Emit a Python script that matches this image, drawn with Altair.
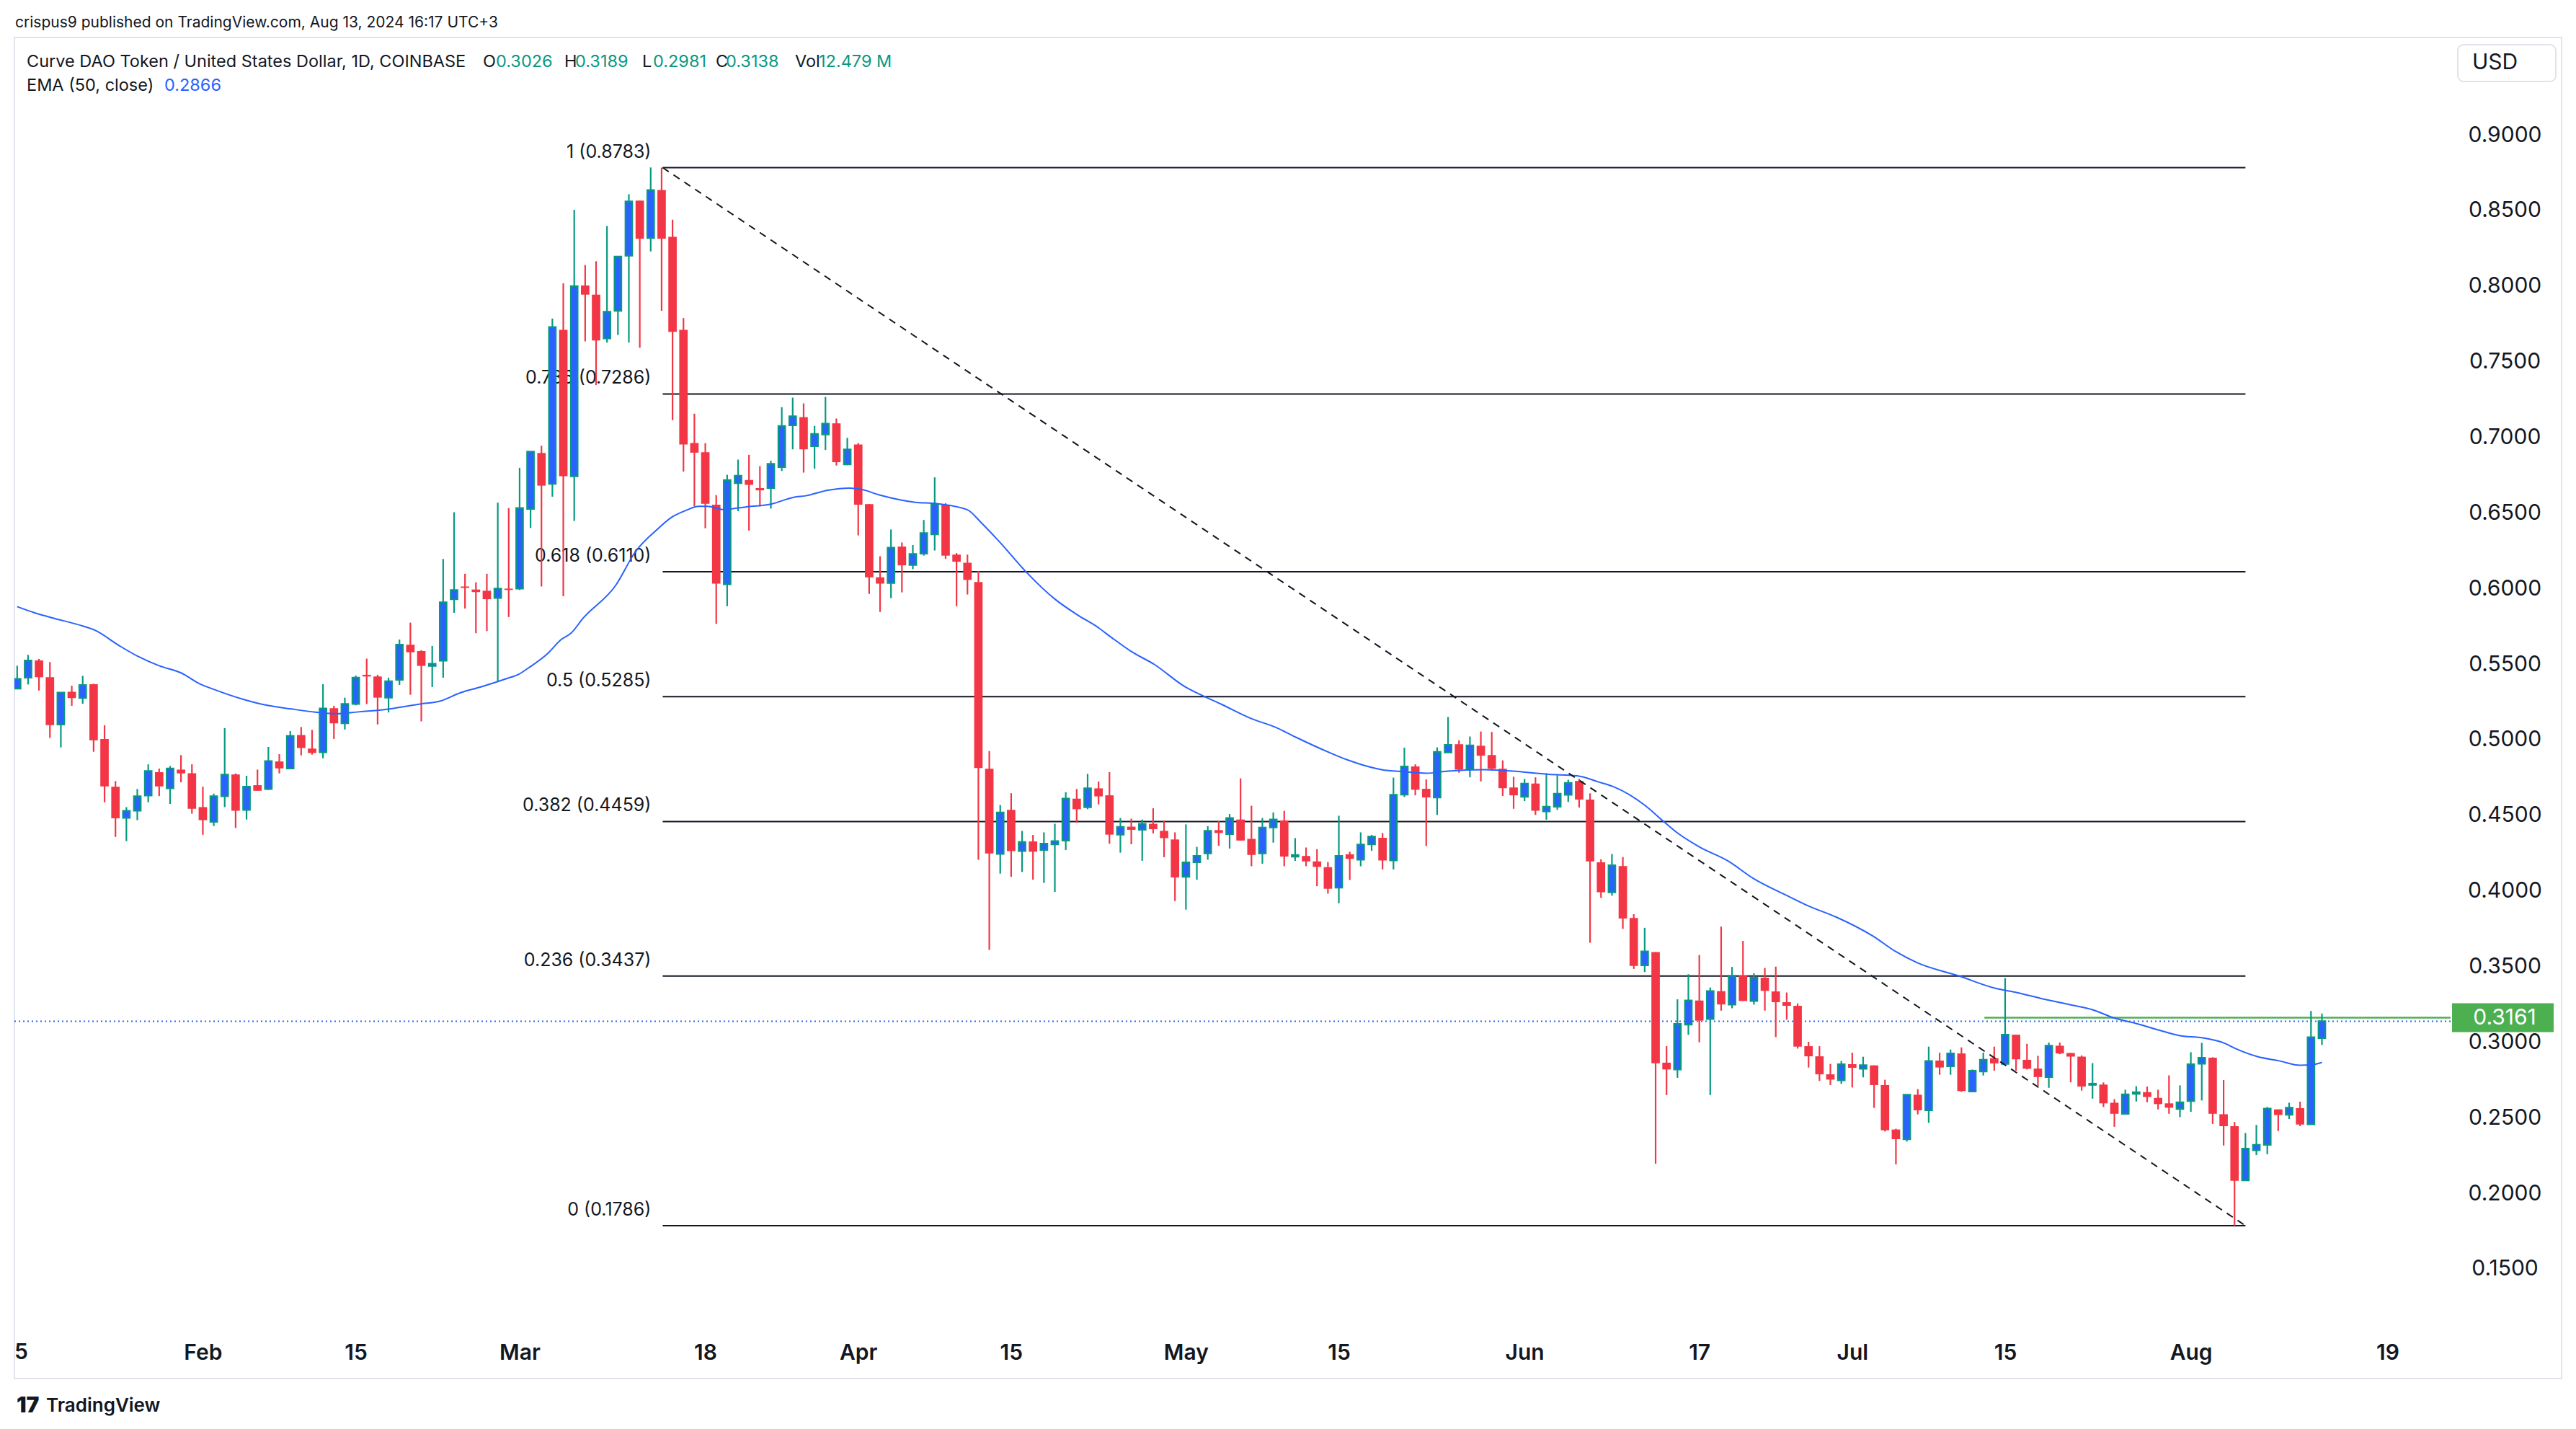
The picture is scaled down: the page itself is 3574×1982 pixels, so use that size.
import altair as alt
import pandas as pd

# ---------------- data ----------------
start_date = "2024-01-15"

opens = [0.5338,0.5410,0.5524,0.5413,0.5100,0.5317,0.5275,0.5367,0.5004,0.4689,
         0.4483,0.4530,0.4631,0.4785,0.4678,0.4802,0.4778,0.4554,0.4456,0.4626,
         0.4770,0.4535,0.4699,0.4674,0.4856,0.4809,0.5031,0.4941,0.4917,0.5208,
         0.5109,0.5236,0.5429,0.5418,0.5278,0.5396,0.5628,0.5586,0.5488,0.5522,
         0.5929,0.6013,0.5993,0.5985,0.5937,0.5999,0.5999,0.6526,0.6896,0.6691,
         0.7710,0.6742,0.8004,0.7943,0.7654,0.7836,0.8201,0.8565,0.8318,0.8635,
         0.8325,0.7710,0.6962,0.6901,0.6554,0.6028,0.6696,0.6717,0.6664,0.6664,
         0.6803,0.7079,0.7133,0.6941,0.7018,0.7092,0.6820,0.6952,0.6558,0.6074,
         0.6036,0.6277,0.6155,0.6230,0.6358,0.6554,0.6224,0.6170,0.6043,0.4808,
         0.4244,0.4536,0.4263,0.4327,0.4270,0.4308,0.4333,0.4610,0.4553,0.4678,
         0.4632,0.4372,0.4425,0.4404,0.4444,0.4397,0.4340,0.4093,0.4189,0.4248,
         0.4402,0.4376,0.4472,0.4344,0.4248,0.4419,0.4466,0.4227,0.4231,0.4195,
         0.4157,0.4021,0.4242,0.4206,0.4308,0.4351,0.4201,0.4636,0.4823,0.4675,
         0.4618,0.4915,0.4970,0.4806,0.4960,0.4898,0.4808,0.4684,0.4622,0.4710,
         0.4526,0.4557,0.4635,0.4727,0.4604,0.4189,0.3991,0.4164,0.3821,0.3508,
         0.3596,0.2864,0.2819,0.3116,0.3275,0.3153,0.3337,0.3248,0.3442,0.3272,
         0.3426,0.3335,0.3264,0.3240,0.2973,0.2906,0.2787,0.2747,0.2854,0.2824,
         0.2846,0.2716,0.2422,0.2358,0.2652,0.2549,0.2878,0.2840,0.2925,0.2673,
         0.2806,0.2894,0.2856,0.3049,0.2883,0.2825,0.2769,0.2976,0.2928,0.2904,
         0.2717,0.2719,0.2599,0.2526,0.2658,0.2669,0.2631,0.2595,0.2558,0.2610,
         0.2857,0.2897,0.2523,0.2444,0.2086,0.2285,0.2321,0.2555,0.2520,0.2563,
         0.2456,0.3026]
highs = [0.5489,0.5561,0.5534,0.5513,0.5311,0.5357,0.5422,0.5370,0.5095,0.4726,
         0.4554,0.4674,0.4837,0.4809,0.4826,0.4898,0.4837,0.4689,0.4643,0.5076,
         0.4777,0.4761,0.4802,0.4952,0.4904,0.5057,0.5084,0.5065,0.5367,0.5224,
         0.5278,0.5424,0.5536,0.5429,0.5410,0.5662,0.5774,0.5592,0.5620,0.6195,
         0.6504,0.6097,0.6041,0.6097,0.6568,0.6532,0.6798,0.6905,0.6944,0.7785,
         0.8018,0.8504,0.8139,0.8164,0.8397,0.8195,0.8607,0.8565,0.8784,0.8783,
         0.8438,0.7788,0.7156,0.6961,0.6617,0.6752,0.6852,0.6884,0.6809,0.6845,
         0.7199,0.7262,0.7224,0.7075,0.7267,0.7124,0.6996,0.6962,0.6558,0.6213,
         0.6390,0.6304,0.6287,0.6453,0.6735,0.6564,0.6234,0.6224,0.6115,0.4925,
         0.4568,0.4646,0.4397,0.4370,0.4387,0.4444,0.4653,0.4674,0.4774,0.4723,
         0.4785,0.4482,0.4478,0.4472,0.4546,0.4466,0.4387,0.4440,0.4291,0.4429,
         0.4461,0.4508,0.4744,0.4563,0.4482,0.4519,0.4529,0.4349,0.4287,0.4276,
         0.4191,0.4497,0.4259,0.4387,0.4370,0.4383,0.4749,0.4947,0.4837,0.4737,
         0.4949,0.5150,0.4996,0.5021,0.5054,0.5051,0.4863,0.4755,0.4741,0.4751,
         0.4778,0.4765,0.4735,0.4741,0.4645,0.4209,0.4244,0.4224,0.3846,0.3756,
         0.3596,0.2973,0.3283,0.3449,0.3576,0.3361,0.3764,0.3497,0.3669,0.3455,
         0.3490,0.3499,0.3328,0.3256,0.3002,0.2973,0.2856,0.2875,0.2930,0.2903,
         0.2846,0.2751,0.2427,0.2652,0.2689,0.2970,0.2930,0.2951,0.2965,0.2819,
         0.2930,0.2970,0.3423,0.3049,0.2989,0.2909,0.2997,0.2997,0.2928,0.2912,
         0.2861,0.2733,0.2623,0.2685,0.2709,0.2706,0.2685,0.2780,0.2714,0.2933,
         0.2995,0.2900,0.2749,0.2472,0.2399,0.2452,0.2571,0.2555,0.2599,0.2606,
         0.3206,0.3189]
lows = [0.5335,0.5365,0.5325,0.5012,0.4949,0.5224,0.5238,0.4920,0.4586,0.4357,
        0.4329,0.4468,0.4586,0.4627,0.4575,0.4718,0.4511,0.4371,0.4429,0.4554,
        0.4416,0.4472,0.4662,0.4666,0.4777,0.4806,0.4896,0.4901,0.4877,0.5005,
        0.5067,0.5227,0.5236,0.5101,0.5180,0.5362,0.5297,0.5121,0.5348,0.5410,
        0.5839,0.5867,0.5704,0.5718,0.5382,0.5811,0.5990,0.6400,0.6013,0.6607,
        0.5948,0.6447,0.7634,0.7345,0.7626,0.7676,0.7626,0.7592,0.8229,0.7836,
        0.7113,0.6773,0.6543,0.6398,0.5766,0.5883,0.6511,0.6383,0.6543,0.6528,
        0.6777,0.6920,0.6766,0.6792,0.6916,0.6813,0.6815,0.6351,0.5964,0.5845,
        0.5936,0.5974,0.6128,0.6217,0.6251,0.6196,0.5883,0.5960,0.4206,0.3610,
        0.4114,0.4093,0.4125,0.4074,0.4053,0.3993,0.4270,0.4451,0.4540,0.4572,
        0.4312,0.4253,0.4308,0.4199,0.4380,0.4223,0.3933,0.3876,0.4074,0.4206,
        0.4298,0.4280,0.4333,0.4163,0.4180,0.4319,0.4163,0.4199,0.4163,0.4031,
        0.3982,0.3918,0.4072,0.4163,0.4265,0.4142,0.4142,0.4621,0.4632,0.4297,
        0.4502,0.4915,0.4782,0.4751,0.4724,0.4802,0.4628,0.4543,0.4594,0.4502,
        0.4471,0.4536,0.4588,0.4551,0.3657,0.3954,0.3968,0.3749,0.3484,0.3463,
        0.2196,0.2650,0.2764,0.3048,0.2999,0.2650,0.3208,0.3224,0.3272,0.3248,
        0.3208,0.3033,0.3148,0.2957,0.2832,0.2743,0.2716,0.2724,0.2700,0.2767,
        0.2565,0.2409,0.2191,0.2342,0.2522,0.2466,0.2784,0.2784,0.2671,0.2673,
        0.2779,0.2811,0.2856,0.2811,0.2819,0.2711,0.2698,0.2920,0.2734,0.2679,
        0.2626,0.2571,0.2440,0.2526,0.2607,0.2602,0.2555,0.2526,0.2504,0.2539,
        0.2614,0.2459,0.2316,0.1786,0.2086,0.2253,0.2258,0.2412,0.2491,0.2444,
        0.2456,0.2981]
closes = [0.5402,0.5524,0.5413,0.5096,0.5311,0.5275,0.5362,0.4996,0.4691,0.4480,
          0.4530,0.4626,0.4793,0.4691,0.4810,0.4777,0.4543,0.4468,0.4626,0.4769,
          0.4530,0.4689,0.4662,0.4858,0.4810,0.5025,0.4945,0.4912,0.5206,0.5108,
          0.5236,0.5410,0.5418,0.5278,0.5387,0.5628,0.5578,0.5488,0.5502,0.5909,
          0.5990,0.6004,0.5976,0.5929,0.5999,0.5990,0.6532,0.6905,0.6680,0.7729,
          0.6742,0.7999,0.7943,0.7640,0.7830,0.8195,0.8560,0.8313,0.8635,0.8313,
          0.7697,0.6952,0.6898,0.6560,0.6032,0.6717,0.6745,0.6685,0.6649,0.6824,
          0.7075,0.7139,0.6920,0.7022,0.7090,0.6835,0.6920,0.6554,0.6074,0.6032,
          0.6270,0.6153,0.6228,0.6366,0.6558,0.6217,0.6177,0.6057,0.4812,0.4248,
          0.4519,0.4263,0.4323,0.4259,0.4312,0.4329,0.4610,0.4540,0.4678,0.4625,
          0.4372,0.4423,0.4404,0.4444,0.4408,0.4349,0.4089,0.4189,0.4231,0.4397,
          0.4383,0.4482,0.4333,0.4238,0.4419,0.4472,0.4227,0.4238,0.4195,0.4159,
          0.4014,0.4231,0.4212,0.4306,0.4359,0.4201,0.4636,0.4823,0.4669,0.4618,
          0.4919,0.4966,0.4802,0.4962,0.4894,0.4808,0.4679,0.4632,0.4710,0.4530,
          0.4557,0.4643,0.4714,0.4604,0.4195,0.3991,0.4169,0.3817,0.3504,0.3600,
          0.2860,0.2819,0.3120,0.3275,0.3142,0.3337,0.3249,0.3439,0.3272,0.3426,
          0.3339,0.3264,0.3240,0.2970,0.2906,0.2787,0.2752,0.2854,0.2830,0.2848,
          0.2716,0.2417,0.2358,0.2652,0.2549,0.2875,0.2832,0.2925,0.2676,0.2811,
          0.2883,0.2859,0.3049,0.2886,0.2824,0.2769,0.2976,0.2925,0.2904,0.2706,
          0.2725,0.2595,0.2526,0.2655,0.2669,0.2637,0.2590,0.2566,0.2602,0.2854,
          0.2897,0.2526,0.2444,0.2083,0.2296,0.2321,0.2560,0.2518,0.2566,0.2455,
          0.3032,0.3138]

ema_day = [0, 1.6, 3.15, 6.0, 7.1, 9.3, 11.0, 13.0, 15.0, 16.7, 18.0, 20.7, 22.9, 25.1, 27.3,
           29.2, 31.4, 33.6, 36.9, 38.7, 40.6, 42.4, 44.8, 45.9, 46.8, 48.6, 49.8, 50.7, 51.8,
           54.8, 56.6, 58.6, 59.9, 61.2, 62.4, 63.2, 64.6, 66.7, 69.0, 71.1, 72.2, 74.2, 76.2,
           77.3, 79.0, 82.1, 84.3, 87.0, 88.2, 90.0, 92.3, 95.0, 97.1, 98.9, 100.2, 102.0,
           104.1, 106.9, 108.5, 110.3, 112.9, 115.3, 117.1, 120.0, 121.8, 124.9, 127.0, 129.0,
           131.0, 134.3, 136.9, 140.2, 142.8, 144.8, 146.1, 149.0, 150.7, 152.0, 154.0, 156.6,
           159.0, 162.0, 164.0, 166.5, 169.9, 172.0, 174.0, 177.7, 181.1, 183.1, 185.2, 188.0,
           190.0, 192.0, 194.2, 196.1, 197.9, 200.1, 202.1, 203.1, 205.1, 207.1, 209.0, 210.0, 211.0]
ema_val = [0.588, 0.5839, 0.5807, 0.5752, 0.5725, 0.5624, 0.5553, 0.5489, 0.5442, 0.5370, 0.5333,
           0.5267, 0.5227, 0.5203, 0.5182, 0.5171, 0.5185, 0.5199, 0.5236, 0.5255, 0.5311, 0.5348,
           0.5404, 0.5432, 0.5474, 0.5572, 0.5662, 0.5704, 0.5802, 0.6021, 0.6243, 0.6391, 0.6470,
           0.6515, 0.6543, 0.6543, 0.6522, 0.6539, 0.6558, 0.6603, 0.6613, 0.6649, 0.6664, 0.6655,
           0.6617, 0.6571, 0.6560, 0.6520, 0.6440, 0.6303, 0.6115, 0.5930, 0.5824, 0.5745, 0.5675,
           0.5583, 0.5498, 0.5351, 0.5292, 0.5232, 0.5142, 0.5079, 0.5015, 0.4919, 0.4866, 0.4802,
           0.4788, 0.4778, 0.4792, 0.4802, 0.4792, 0.4771, 0.4761, 0.4720, 0.4690, 0.4567, 0.4461,
           0.4383, 0.4291, 0.4199, 0.4080, 0.3970, 0.3900, 0.3828, 0.3701, 0.3598, 0.3523, 0.3439,
           0.3356, 0.3327, 0.3290, 0.3246, 0.3214, 0.3159, 0.3119, 0.3079, 0.3044, 0.3028, 0.2992,
           0.2957, 0.2904, 0.2876, 0.2847, 0.2849, 0.2866]

fib_ratio = ["1", "0.786", "0.618", "0.5", "0.382", "0.236", "0"]
fib_price = [0.8783, 0.7286, 0.6110, 0.5285, 0.4459, 0.3437, 0.1786]
fib_start_day = 59.1     # Mar 14 high
fib_end_day = 204.0      # Aug 5 low

tick_days = [17, 31, 46, 63, 77, 91, 107, 121, 138, 154, 168, 182, 199, 217]
tick_labels = ["Feb", "15", "Mar", "18", "Apr", "15", "May", "15", "Jun", "17", "Jul", "15", "Aug", "19"]
price_ticks = [0.15, 0.20, 0.25, 0.30, 0.35, 0.40, 0.45, 0.50, 0.55, 0.60, 0.65, 0.70, 0.75, 0.80, 0.85, 0.90]

last_close = 0.3138
ray_price = 0.3161
ray_start_day = 180.1

assert len(opens) == len(highs) == len(lows) == len(closes)
assert len(ema_day) == len(ema_val)

# ---------------- frames ----------------
n = len(opens)
dates = pd.date_range(start_date, periods=n, freq="D")
candles = pd.DataFrame({"t": list(range(n)), "date": dates.strftime("%Y-%m-%d"),
                        "o": opens, "h": highs, "l": lows, "c": closes})
candles["up"] = candles["c"] >= candles["o"]
up = candles[candles["up"]]
dn = candles[~candles["up"]]

ema = pd.DataFrame({"t": ema_day, "ema": ema_val})
fib = pd.DataFrame({"ratio": fib_ratio, "price": fib_price})
fib["label"] = [f"{r} ({p:.4f})" for r, p in zip(fib_ratio, fib_price)]
fib["x1"] = fib_start_day
fib["x2"] = fib_end_day
diag = pd.DataFrame({"x1": [fib_start_day], "x2": [fib_end_day],
                     "y1": [fib_price[0]], "y2": [fib_price[-1]]})
lastp = pd.DataFrame({"v": [last_close]})
ray = pd.DataFrame({"t": [ray_start_day], "v": [ray_price], "lab": [f"{ray_price:.4f}"]})
one = pd.DataFrame({"k": [0]})

# ---------------- geometry ----------------
W, H = 3380, 1768
X0, X1 = 0.079, 222.45
Y0, Y1 = 0.12138, 0.96437
FONT = "Inter"
INK = "#131722"
GREEN = "#089981"
RED = "#f23645"
BLUE = "#2962ff"
LEG = 23.5

XS = alt.Scale(domain=[X0, X1], nice=False, zero=False)
YS = alt.Scale(domain=[Y0, Y1], nice=False, zero=False)

label_expr = " : ".join(f"datum.value == {d} ? '{l}'" for d, l in zip(tick_days, tick_labels)) + " : ''"
XAX = alt.Axis(values=tick_days, labelExpr=label_expr, title=None, grid=False, ticks=False,
               tickSize=0, domain=False, labelFont=FONT, labelFontSize=30, labelFontWeight=600,
               labelColor=INK, labelPadding=56, labelBaseline="middle", labelAlign="center",
               labelOverlap=False, labelFlush=False)
YAX = alt.Axis(values=price_ticks, format=".4f", title=None, grid=False, ticks=False, tickSize=0,
               domain=False, orient="right", labelFont=FONT, labelFontSize=30, labelColor=INK,
               labelPadding=75, labelAlign="center", labelBaseline="middle", labelOverlap=False,
               labelFlush=False)


def X(f):
    return alt.X(f"{f}:Q", scale=XS, axis=XAX)


def Y(f):
    return alt.Y(f"{f}:Q", scale=YS, axis=YAX)


# fib lines + labels
fib_lines = alt.Chart(fib).mark_rule(color=INK, strokeWidth=2).encode(
    x=X("x1"), x2="x2:Q", y=Y("price"))
fib_text = alt.Chart(fib).mark_text(align="right", baseline="middle", dx=-16, dy=-22,
                                    font=FONT, fontSize=25, color=INK).encode(
    x=X("x1"), y=Y("price"), text="label:N")

last_line = alt.Chart(lastp).mark_rule(color=BLUE, strokeWidth=2, strokeDash=[2, 4]).encode(
    y=Y("v"))
ray_line = alt.Chart(ray).mark_rule(color="#4caf50", strokeWidth=2.5).encode(
    x=X("t"), x2=alt.value(W), y=Y("v"))

# candles
wick_up = alt.Chart(up).mark_rule(color=GREEN, strokeWidth=2.2, clip=True).encode(
    x=X("t"), y=Y("l"), y2="h:Q")
wick_dn = alt.Chart(dn).mark_rule(color=RED, strokeWidth=2.2, clip=True).encode(
    x=X("t"), y=Y("l"), y2="h:Q")
body_up = alt.Chart(up).mark_bar(size=9.5, fill=BLUE, stroke=GREEN, strokeWidth=2.2,
                                 clip=True).encode(x=X("t"), y=Y("o"), y2="c:Q")
body_dn = alt.Chart(dn).mark_bar(size=11.7, fill=RED, clip=True).encode(
    x=X("t"), y=Y("o"), y2="c:Q")

ema_line = alt.Chart(ema).mark_line(color=BLUE, strokeWidth=2, interpolate="monotone",
                                    clip=True).encode(x=X("t"), y=Y("ema"))

diag_line = alt.Chart(diag).mark_rule(color=INK, strokeWidth=2, strokeDash=[10, 8]).encode(
    x=X("x1"), x2="x2:Q", y=Y("y1"), y2="y2:Q")

# price tag on the right scale
box_path = "M-1,-0.2837L1,-0.2837L1,0.2837L-1,0.2837Z"
tag_box = alt.Chart(ray).mark_point(shape=box_path, size=19881, filled=True, fill="#4caf50",
                                    opacity=1, strokeWidth=0).encode(
    x=alt.value(3452.5), y=Y("v"))
tag_text = alt.Chart(ray).mark_text(color="white", font=FONT, fontSize=30, align="center",
                                    baseline="middle").encode(
    x=alt.value(3455), y=Y("v"), text="lab:N")

# frame + USD box
frame = alt.Chart(one).mark_rect(filled=False, stroke="#e0e3eb", strokeWidth=2).encode(
    x=alt.value(0), x2=alt.value(3534), y=alt.value(0), y2=alt.value(1860))
usd_box = alt.Chart(one).mark_rect(filled=False, stroke="#e0e3eb", strokeWidth=2,
                                   cornerRadius=8).encode(
    x=alt.value(3390), x2=alt.value(3526), y=alt.value(10), y2=alt.value(61))

# overlay texts (pixel positions relative to the plot origin)
texts = pd.DataFrame([
    (1, -20, "crispus9 published on TradingView.com, Aug 13, 2024 16:17 UTC+3", INK, 21),
    (17, 34, "Curve DAO Token / United States Dollar, 1D, COINBASE", INK, LEG),
    (650, 34, "O", INK, LEG), (668, 34, "0.3026", GREEN, LEG),
    (763, 34, "H", INK, LEG), (778, 34, "0.3189", GREEN, LEG),
    (871, 34, "L", INK, LEG), (886, 34, "0.2981", GREEN, LEG),
    (973, 34, "C", INK, LEG), (987, 34, "0.3138", GREEN, LEG),
    (1083, 34, "Vol", INK, LEG), (1116, 34, "12.479 M", GREEN, LEG),
    (17, 67, "EMA (50, close)", INK, LEG), (208, 67, "0.2866", BLUE, LEG),
    (3410, 35, "USD", INK, 30),
], columns=["px", "py", "txt", "col", "fs"])
overlay = alt.Chart(texts).mark_text(align="left", baseline="middle", font=FONT).encode(
    x=alt.X("px:Q", scale=None), y=alt.Y("py:Q", scale=None), text="txt:N",
    color=alt.Color("col:N", scale=None), size=alt.Size("fs:Q", scale=None))

bold_texts = pd.DataFrame([
    (0, 1824, "5", 30),
    (44, 1898, "TradingView", 26),
], columns=["px", "py", "txt", "fs"])
overlay_b = alt.Chart(bold_texts).mark_text(align="left", baseline="middle", font=FONT,
                                            fontWeight=600, color=INK).encode(
    x=alt.X("px:Q", scale=None), y=alt.Y("py:Q", scale=None), text="txt:N",
    size=alt.Size("fs:Q", scale=None))
logo = alt.Chart(one).mark_text(align="left", baseline="middle", font=FONT, fontWeight=900,
                                fontSize=30, color=INK, text="17").encode(
    x=alt.value(3), y=alt.value(1898))

chart = alt.layer(
    frame, usd_box,
    fib_lines, fib_text, last_line, ray_line,
    wick_up, wick_dn, body_up, body_dn,
    ema_line, diag_line,
    tag_box, tag_text,
    overlay, overlay_b, logo,
).properties(
    width=W, height=H,
    autosize=alt.AutoSizeParams(type="none"),
    padding={"left": 12, "top": 44, "right": 160, "bottom": 150},
    background="white",
).configure_view(stroke=None)

chart.save("out.html", embed_options={"renderer": "svg", "actions": False})
